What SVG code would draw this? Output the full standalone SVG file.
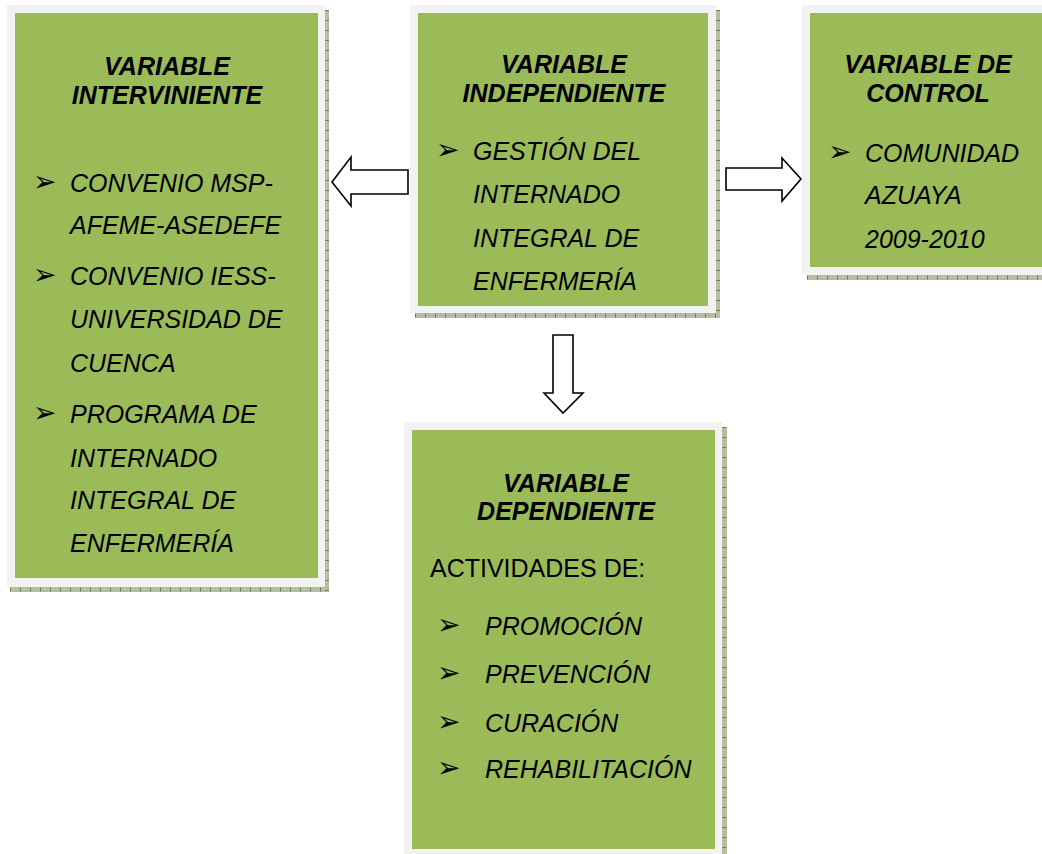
<svg xmlns="http://www.w3.org/2000/svg" width="1042" height="854" viewBox="0 0 1042 854">
<style>
.frame{fill:#F2F2F2}
.green{fill:#9BBB59}
.shadow{fill:#B7BDA3}
.tick{stroke:#6F7F4F;stroke-width:4;stroke-dasharray:1 9;fill:none}
.title{font-family:"Liberation Sans",Arial,sans-serif;font-size:25px;font-weight:bold;font-style:italic;fill:#000;text-anchor:middle}
.item{font-family:"Liberation Sans",Arial,sans-serif;font-size:25px;font-style:italic;fill:#000}
.plain{font-family:"Liberation Sans",Arial,sans-serif;font-size:25px;fill:#000}
.bul{font-family:"DejaVu Sans",sans-serif;font-size:28px;fill:#000}
.arrow{fill:#fff;stroke:#000;stroke-width:1.6;stroke-linejoin:miter}
</style>
<rect width="1042" height="854" fill="#fff"/>

<g id="interviniente">
<rect class="shadow" x="325" y="10" width="4" height="582"/>
<rect class="shadow" x="10" y="587" width="319" height="5"/>
<line class="tick" x1="327" y1="10" x2="327" y2="592"/>
<line class="tick" x1="10" y1="589.5" x2="329" y2="589.5"/>
<rect class="frame" x="7" y="5" width="318" height="582"/>
<rect class="green" x="15" y="13" width="303" height="565"/>
<text class="title" x="167" y="75">VARIABLE</text>
<text class="title" x="167" y="104">INTERVINIENTE</text>
<text class="bul" x="33" y="191">➢</text>
<text class="item" x="70" y="192">CONVENIO MSP-</text>
<text class="item" x="70" y="234">AFEME-ASEDEFE</text>
<text class="bul" x="33" y="284">➢</text>
<text class="item" x="70" y="285">CONVENIO IESS-</text>
<text class="item" x="70" y="328">UNIVERSIDAD DE</text>
<text class="item" x="70" y="372">CUENCA</text>
<text class="bul" x="33" y="422">➢</text>
<text class="item" x="70" y="423">PROGRAMA DE</text>
<text class="item" x="70" y="467">INTERNADO</text>
<text class="item" x="70" y="509">INTEGRAL DE</text>
<text class="item" x="70" y="552">ENFERMERÍA</text>
</g>

<g id="independiente">
<rect class="shadow" x="716" y="10" width="4" height="308"/>
<rect class="shadow" x="415" y="313" width="305" height="5"/>
<line class="tick" x1="718" y1="10" x2="718" y2="318"/>
<line class="tick" x1="415" y1="315.5" x2="720" y2="315.5"/>
<rect class="frame" x="410" y="5" width="306" height="308"/>
<rect class="green" x="418" y="13" width="290" height="293"/>
<text class="title" x="564" y="73">VARIABLE</text>
<text class="title" x="564" y="102">INDEPENDIENTE</text>
<text class="bul" x="436" y="159">➢</text>
<text class="item" x="473" y="160">GESTIÓN DEL</text>
<text class="item" x="473" y="203">INTERNADO</text>
<text class="item" x="473" y="247">INTEGRAL DE</text>
<text class="item" x="473" y="290">ENFERMERÍA</text>
</g>

<g id="control">
<rect class="shadow" x="807" y="275" width="240" height="5"/>
<line class="tick" x1="807" y1="277.5" x2="1047" y2="277.5"/>
<rect class="frame" x="802" y="5" width="250" height="270"/>
<rect class="green" x="810" y="13" width="240" height="254"/>
<text class="title" x="928" y="73">VARIABLE DE</text>
<text class="title" x="928" y="102">CONTROL</text>
<text class="bul" x="828" y="161">➢</text>
<text class="item" x="865" y="162">COMUNIDAD</text>
<text class="item" x="865" y="204">AZUAYA</text>
<text class="item" x="865" y="248">2009-2010</text>
</g>

<g id="dependiente">
<rect class="shadow" x="722" y="427" width="5" height="430"/>
<line class="tick" x1="724.5" y1="427" x2="724.5" y2="857"/>
<rect class="frame" x="404" y="422" width="318" height="440"/>
<rect class="green" x="412" y="430" width="303" height="419"/>
<text class="title" x="566" y="492">VARIABLE</text>
<text class="title" x="566" y="520">DEPENDIENTE</text>
<text class="plain" x="430" y="577">ACTIVIDADES DE:</text>
<text class="bul" x="437" y="634">➢</text>
<text class="item" x="485" y="635">PROMOCIÓN</text>
<text class="bul" x="437" y="682">➢</text>
<text class="item" x="485" y="683">PREVENCIÓN</text>
<text class="bul" x="437" y="731">➢</text>
<text class="item" x="485" y="732">CURACIÓN</text>
<text class="bul" x="437" y="777">➢</text>
<text class="item" x="485" y="778">REHABILITACIÓN</text>
</g>

<g id="connectors">
<polygon class="arrow" points="332,182 351,157 351,170 408,170 408,194 351,194 351,206"/>
<polygon class="arrow" points="726,168 782,168 782,158 801,179 782,201 782,190 726,190"/>
<polygon class="arrow" points="553,335 573,335 573,393 583,393 563,413 544,393 553,393"/>
</g>
</svg>
